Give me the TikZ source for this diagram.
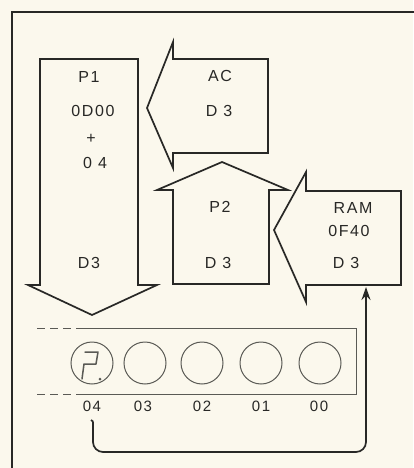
\documentclass[tikz,border=0pt]{standalone}
\usepackage{fontspec}
\newfontfamily\lbl{Liberation Sans}[LetterSpace=10]
\usetikzlibrary{arrows.meta}
\definecolor{bg}{RGB}{251,248,237}
\definecolor{ink}{RGB}{40,40,38}
\definecolor{ink2}{RGB}{90,90,85}
\begin{document}
\begin{tikzpicture}[x=1pt,y=-1pt,
  txt/.style={inner sep=0pt,text=ink,font=\lbl\fontsize{16}{16}\selectfont},
  sml/.style={inner sep=0pt,text=ink,font=\lbl\fontsize{15}{15}\selectfont},
  blockarrow/.style={draw=ink,line width=1.7pt,fill=bg,line join=miter},
  digit/.style={draw=ink2,line width=1pt},
  conn/.style={draw=ink,line width=1.7pt,rounded corners=10pt,-{Stealth[length=13pt,width=9pt]}}]
\path[fill=bg] (0,0) rectangle (413,468);
\useasboundingbox (0,0) rectangle (413,468);
% frame
\draw[ink,line width=2.2pt] (12,470) -- (12,12) -- (415,12);
% P1 down arrow
\draw[blockarrow] (40,59) -- (138,59) -- (138,285) -- (157,285) -- (92,315) -- (28,285) -- (40,285) -- cycle;
% AC left arrow
\draw[blockarrow] (268,59) -- (268,153) -- (173,153) -- (173,168) -- (147,108) -- (173,42) -- (173,59) -- cycle;
% P2 up arrow
\draw[blockarrow] (173,284) -- (173,190) -- (157,190) -- (222,162) -- (288,190) -- (269,190) -- (269,284) -- cycle;
% RAM left arrow
\draw[blockarrow] (401,191) -- (401,285) -- (306,285) -- (306,302) -- (274,230) -- (306,172) -- (306,191) -- cycle;
% texts
\node[txt] (p1) at (89,77) {P1};
\node[txt] (p1a) at (93,111) {0D00};
\node[txt] (p1b) at (91,139) {+};
\node[txt] (p1c) at (95,163) {0 4};
\node[txt] (p1d) at (89,263) {D3};
\node[txt] (ac) at (220,76) {AC};
\node[txt] (acd) at (219,111) {D 3};
\node[txt] (p2) at (220,207) {P2};
\node[txt] (p2d) at (218,263) {D 3};
\node[txt] (ram) at (353,208) {RAM};
\node[txt] (ramb) at (349,231) {0F40};
\node[txt] (ramd) at (346,263) {D 3};
% display
\draw[ink2,line width=1pt] (78,328) -- (356,328) -- (356,394) -- (78,394);
\draw[ink2,line width=1pt,dash pattern=on 8pt off 5pt] (37,328) -- (78,328);
\draw[ink2,line width=1pt,dash pattern=on 8pt off 5pt] (37,394) -- (78,394);
\node[digit,circle,minimum size=42pt,inner sep=0pt] (d4) at (92,363) {};
\node[digit,circle,minimum size=42pt,inner sep=0pt] (d3) at (145,363) {};
\node[digit,circle,minimum size=42pt,inner sep=0pt] (d2) at (202,363) {};
\node[digit,circle,minimum size=42pt,inner sep=0pt] (d1) at (261,363) {};
\node[digit,circle,minimum size=42pt,inner sep=0pt] (d0) at (320,363) {};
% seven-segment glyph
\draw[ink2,line width=1.5pt,line cap=round,line join=round] (85,352) -- (98,352) -- (96,364) -- (84,364) -- (82,379);
\fill[ink2] (100,379) circle (1.5pt);
\node[sml] (l4) at (92,406) {04};
\node[sml] (l3) at (143,406) {03};
\node[sml] (l2) at (202,406) {02};
\node[sml] (l1) at (261,406) {01};
\node[sml] (l0) at (319,406) {00};
% connector
\coordinate (cstart) at (93,422);
\coordinate (rambot) at (366,287);
\draw[ink,line width=1.7pt] (91,420) .. controls (93,421) .. (93,425);
\draw[conn] (cstart) -- (93,452) -- (366,452) -- (rambot);
\end{tikzpicture}
\end{document}
